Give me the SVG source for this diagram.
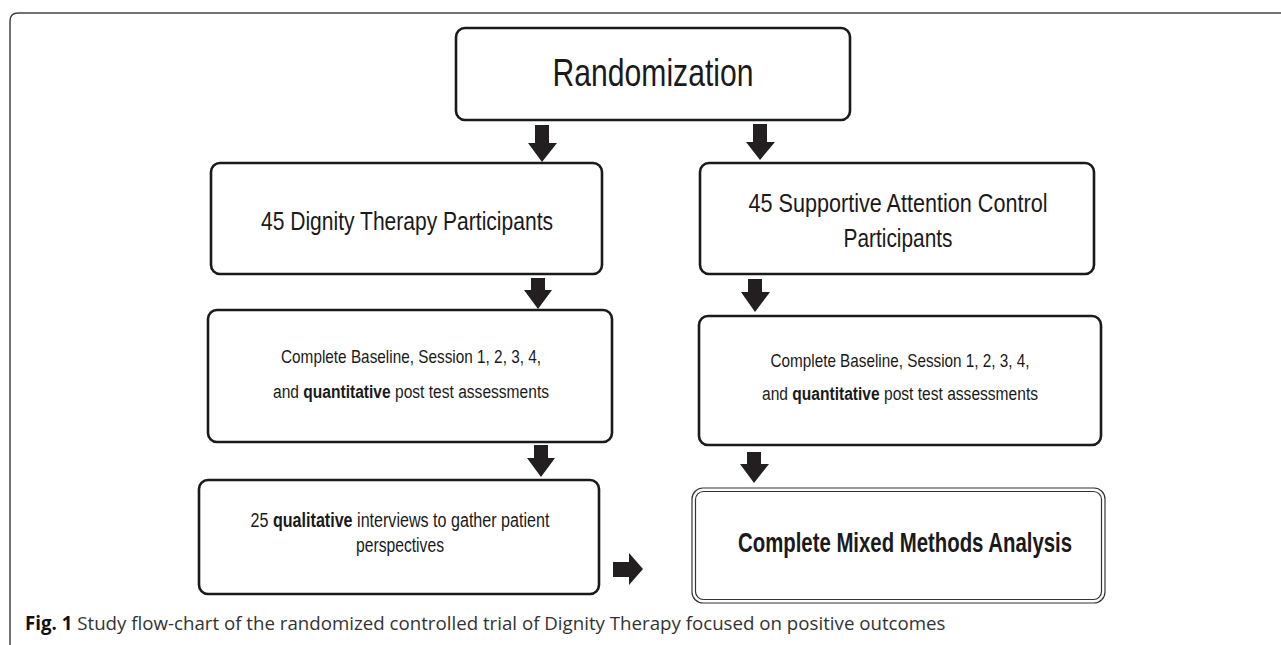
<svg xmlns="http://www.w3.org/2000/svg" width="1281" height="645" viewBox="0 0 1281 645">
<style>
.box{fill:#fff;stroke:#1a1a1a;stroke-width:2.6}
.t{font-family:"Liberation Sans",Arial,sans-serif;fill:#1a1a1a;text-anchor:middle}
.b{font-weight:bold}
.arr{fill:#231f20}
.cap{font-family:"Open Sans","Noto Sans",sans-serif;font-size:18.7px;fill:#333}
</style>
<rect width="1281" height="645" fill="#fff"/>
<path d="M10 645 V21 Q10 13 18 13 H1281" fill="none" stroke="#444" stroke-width="1.5"/>
<g id="randomization">
<rect class="box" x="456" y="28" width="394" height="92" rx="9"/>
<text class="t" x="653" y="86" font-size="39" textLength="201" lengthAdjust="spacingAndGlyphs">Randomization</text>
</g>
<g id="dignity">
<rect class="box" x="211" y="163" width="391" height="111" rx="9"/>
<text class="t" x="407" y="230" font-size="25" textLength="292" lengthAdjust="spacingAndGlyphs">45 Dignity Therapy Participants</text>
</g>
<g id="control">
<rect class="box" x="700" y="163" width="394" height="111" rx="9"/>
<text class="t" x="898" y="212" font-size="25" textLength="299" lengthAdjust="spacingAndGlyphs">45 Supportive Attention Control</text>
<text class="t" x="898" y="247" font-size="25" textLength="109" lengthAdjust="spacingAndGlyphs">Participants</text>
</g>
<g id="dignity-assess">
<rect class="box" x="208" y="310" width="404" height="132" rx="9"/>
<text class="t" x="411" y="363" font-size="19" textLength="260" lengthAdjust="spacingAndGlyphs">Complete Baseline, Session 1, 2, 3, 4,</text>
<text class="t" transform="translate(411 398) scale(0.82 1)" font-size="19">and <tspan class="b">quantitative</tspan> post test assessments</text>
</g>
<g id="control-assess">
<rect class="box" x="699" y="316" width="402" height="129" rx="9"/>
<text class="t" x="900" y="367" font-size="19" textLength="259" lengthAdjust="spacingAndGlyphs">Complete Baseline, Session 1, 2, 3, 4,</text>
<text class="t" transform="translate(900 400) scale(0.82 1)" font-size="19">and <tspan class="b">quantitative</tspan> post test assessments</text>
</g>
<g id="qualitative">
<rect class="box" x="199" y="480" width="400" height="114" rx="9"/>
<text class="t" transform="translate(400 527) scale(0.826 1)" font-size="19.5">25 <tspan class="b">qualitative</tspan> interviews to gather patient</text>
<text class="t" x="400" y="552" font-size="19.5" textLength="88" lengthAdjust="spacingAndGlyphs">perspectives</text>
</g>
<g id="mixed">
<rect x="692" y="488" width="413" height="115" rx="11" fill="#fff" stroke="#333" stroke-width="1.2"/>
<rect x="695.5" y="491.5" width="406" height="108" rx="8" fill="none" stroke="#333" stroke-width="1.2"/>
<text class="t b" x="905" y="552" font-size="27" textLength="334" lengthAdjust="spacingAndGlyphs">Complete Mixed Methods Analysis</text>
</g>
<g id="connectors">
<polygon class="arr" points="535,125 549,125 549,143 557,143 542,162 528,143 535,143"/>
<polygon class="arr" points="753,124 767,124 767,142 775,142 760,160 746,142 753,142"/>
<polygon class="arr" points="531,278 545,278 545,290 552,290 538,309 524,290 531,290"/>
<polygon class="arr" points="748,279 762,279 762,292 770,292 755,312 741,292 748,292"/>
<polygon class="arr" points="534,445 548,445 548,458 555,458 541,477 527,458 534,458"/>
<polygon class="arr" points="747,452 761,452 761,464 769,464 754,483 740,464 747,464"/>
<polygon class="arr" points="613,562 629,562 629,553 643,569 629,585 629,577 613,577"/>
</g>
<text class="cap" x="25" y="630"><tspan font-weight="bold" fill="#111">Fig. 1</tspan> Study flow-chart of the randomized controlled trial of Dignity Therapy focused on positive outcomes</text>
</svg>
